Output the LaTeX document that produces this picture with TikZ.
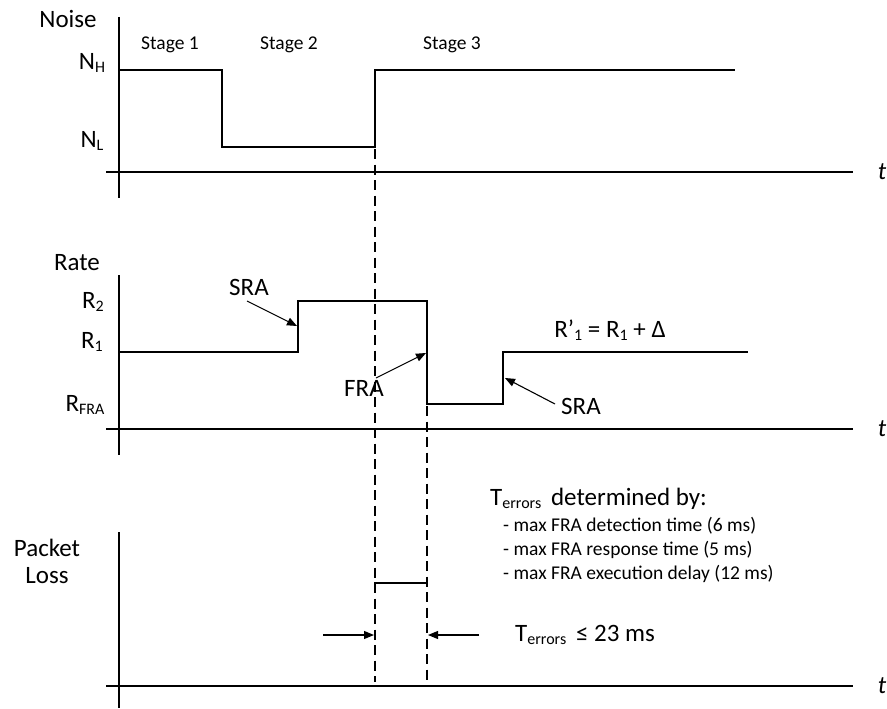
\documentclass[tikz,border=0pt]{standalone}
\usepackage{fontspec}
\setmainfont{Carlito}
\usetikzlibrary{arrows.meta}
\tikzset{
  big/.style={inner sep=0pt, font=\fontsize{25}{28}\selectfont},
  small/.style={inner sep=0pt, font=\fontsize{19.5}{22}\selectfont},
  axis/.style={line width=1.3pt},
  sig/.style={line width=1.3pt, line join=miter},
  guide/.style={line width=1.1pt, dash pattern=on 10pt off 5.5pt},
  pointer/.style={line width=1.1pt, -{Triangle[length=10pt,width=8pt]}},
  tlab/.style={inner sep=0pt, font=\fontsize{25}{28}\selectfont\itshape}
}
\newcommand{\sbs}[1]{\raisebox{-0.25ex}{\fontsize{16}{18}\selectfont #1}}
\begin{document}
\begin{tikzpicture}[x=1pt,y=-1pt]
\useasboundingbox (0,0) rectangle (887,709);
% ---------- Noise panel ----------
\coordinate (nyt) at (119,17);
\coordinate (nyb) at (119,198);
\coordinate (nxl) at (106,172);
\coordinate (nxr) at (853,172);
\draw[axis] (nyt) -- (nyb);
\draw[axis] (nxl) -- (nxr);
\node[tlab] (tn) at (882,172) {t};
\node[big] (noise) at (68,19) {Noise};
\node[big] (nh) at (92,63) {N\sbs{H}};
\node[big] (nl) at (92,141) {N\sbs{L}};
\node[small] (st1) at (170,45) {Stage 1};
\node[small] (st2) at (289,45) {Stage 2};
\node[small] (st3) at (452,45) {Stage 3};
\coordinate (n0) at (119,70);
\coordinate (n1) at (222,70);
\coordinate (n2) at (222,147);
\coordinate (n3) at (375,147);
\coordinate (n4) at (375,70);
\coordinate (n5) at (735,70);
\draw[sig] (n0) -- (n1) -- (n2) -- (n3) -- (n4) -- (n5);
% ---------- Rate panel ----------
\coordinate (ryt) at (119,275);
\coordinate (ryb) at (119,455);
\coordinate (rxl) at (106,429);
\coordinate (rxr) at (853,429);
\draw[axis] (ryt) -- (ryb);
\draw[axis] (rxl) -- (rxr);
\node[tlab] (tr) at (882,429) {t};
\node[big] (rate) at (77,263) {Rate};
\node[big] (r2) at (93,302) {R\sbs{2}};
\node[big] (r1) at (92,342) {R\sbs{1}};
\node[big] (rfra) at (85,405) {R\sbs{FRA}};
\coordinate (r0) at (119,352);
\coordinate (ra) at (298,352);
\coordinate (rb) at (298,301);
\coordinate (rc) at (427,301);
\coordinate (rd) at (427,404);
\coordinate (re) at (503,404);
\coordinate (rf) at (503,352);
\coordinate (rg) at (748,352);
\draw[sig] (r0) -- (ra) -- (rb) -- (rc) -- (rd) -- (re) -- (rf) -- (rg);
\node[big] (sra1) at (249,287) {SRA};
\node[big] (fra) at (364,388) {FRA};
\node[big] (sra2) at (581,406) {SRA};
\node[big] (rp) at (610,330) {R’\sbs{1} = R\sbs{1} + Δ};
\coordinate (sra1s) at (247,301);
\coordinate (sra1e) at (297,326);
\coordinate (fras) at (376,378);
\coordinate (frae) at (426,353);
\coordinate (sra2s) at (555,404);
\coordinate (sra2e) at (505,378);
\draw[pointer] (sra1s) -- (sra1e);
\draw[pointer] (fras) -- (frae);
\draw[pointer] (sra2s) -- (sra2e);
% ---------- Packet loss panel ----------
\coordinate (pyt) at (119,532);
\coordinate (pyb) at (119,708);
\coordinate (pxl) at (106,686);
\coordinate (pxr) at (853,686);
\draw[axis] (pyt) -- (pyb);
\draw[axis] (pxl) -- (pxr);
\node[tlab] (tp) at (882,686) {t};
\node[big, align=center] (pl) at (47,561) {Packet\\[-1pt]Loss};
\coordinate (pv) at (375,592);
\coordinate (p0) at (375,583);
\coordinate (p1) at (427,583);
\draw[sig] (pv) -- (p0) -- (p1);
% dashed guides
\coordinate (g1t) at (375,149);
\coordinate (g1b) at (375,682);
\coordinate (g2t) at (427,406);
\coordinate (g2b) at (427,682);
\draw[guide] (g1t) -- (g1b);
\draw[guide] (g2t) -- (g2b);
% interval arrows
\coordinate (al) at (323,635);
\coordinate (alr) at (374,635);
\coordinate (ar) at (479,635);
\coordinate (arl) at (428,635);
\draw[pointer] (al) -- (alr);
\draw[pointer] (ar) -- (arl);
\node[big, anchor=west] (tle) at (515,635) {T\sbs{errors}\, ≤ 23 ms};
\node[big, anchor=west] (tdet) at (490,499) {T\sbs{errors}\, determined by:};
\node[small, anchor=west] (b1) at (503,526) {- max FRA detection time (6 ms)};
\node[small, anchor=west] (b2) at (503,550) {- max FRA response time (5 ms)};
\node[small, anchor=west] (b3) at (503,574) {- max FRA execution delay (12 ms)};
\end{tikzpicture}
\end{document}
